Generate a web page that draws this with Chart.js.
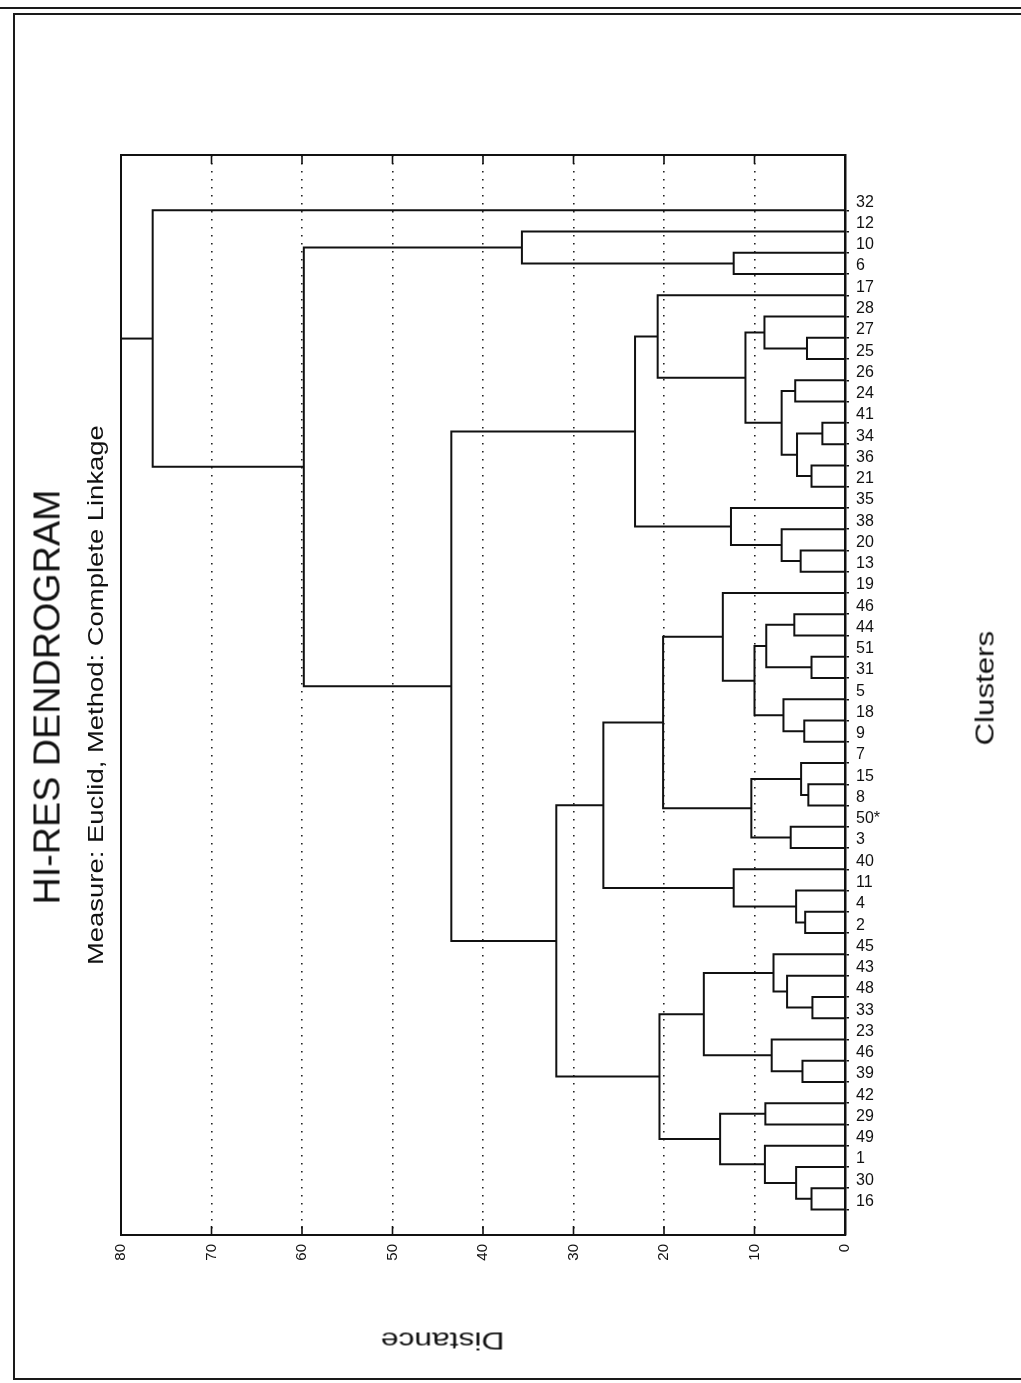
<!DOCTYPE html>
<html>
<head>
<meta charset="utf-8">
<script src="https://cdn.jsdelivr.net/npm/chart.js@4.4.1/dist/chart.umd.min.js"></script>
<style>
html, body { margin: 0; padding: 0; background: #fff; }
#wrap { position: relative; width: 1021px; height: 1383px; overflow: hidden; background: #fff; }
#chartBox { position: absolute; left: 0; top: 0; width: 1021px; height: 1383px; }
.lbl { position: absolute; left: 0; top: 0; white-space: nowrap; font-family: "Liberation Sans", Arial, sans-serif; color: #111; transform-origin: 0 0; line-height: 1; }
.edge { position: absolute; background: #1a1a1a; }
</style>
</head>
<body>
<div id="wrap">
  <div class="edge" style="left:0; top:7px; width:1021px; height:2px;"></div>
  <div class="edge" style="left:13px; top:13px; width:1008px; height:1.5px;"></div>
  <div class="edge" style="left:13px; top:13px; width:2px; height:1367px;"></div>
  <div class="edge" style="left:13px; top:1378px; width:1008px; height:2px;"></div>
  <div id="chartBox"><canvas id="c"></canvas></div>
  <div class="lbl" id="title" style="font-size:37px;" data-cx="47" data-cy="697" data-len="415" data-rot="-90">HI-RES DENDROGRAM</div>
  <div class="lbl" id="subtitle" style="font-size:22px;" data-cx="96" data-cy="695" data-len="540" data-rot="-90">Measure: Euclid, Method: Complete Linkage</div>
  <div class="lbl" id="clusters" style="font-size:25px;" data-cx="985" data-cy="688" data-len="115" data-rot="-90">Clusters</div>
  <div class="lbl" id="distance" style="font-size:23px;" data-cx="443" data-cy="1340" data-len="123" data-rot="180">Distance</div>
</div>
<script>
// ---- data ----
const leafLabels = ["32","12","10","6","17","28","27","25","26","24","41","34","36","21","35","38","20","13","19","46","44","51","31","5","18","9","7","15","8","50*","3","40","11","4","2","45","43","48","33","23","46","39","42","29","49","1","30","16"];
// merges: node ids 0..47 are leaves, 48+ are merges in this order
const mergeLeft   = [2, 1, 6, 5, 8, 10, 12, 53, 52, 51, 4, 16, 15, 14, 58, 19, 21, 63, 24, 23, 65, 18, 27, 26, 29, 71, 69, 33, 32, 31, 74, 37, 36, 35, 40, 39, 81, 42, 46, 45, 44, 85, 84, 78, 62, 49, 0];
const mergeRight  = [3, 48, 7, 50, 9, 11, 13, 54, 55, 56, 57, 17, 59, 60, 61, 20, 22, 64, 25, 66, 67, 68, 28, 70, 30, 72, 73, 34, 75, 76, 77, 38, 79, 80, 41, 82, 83, 43, 47, 86, 87, 88, 89, 90, 91, 92, 93];
const mergeHeight = [12.3, 35.7, 4.2, 8.9, 5.5, 2.5, 3.7, 5.3, 7.0, 11.0, 20.7, 4.9, 7.0, 12.6, 23.2, 5.6, 3.7, 8.7, 4.5, 6.8, 10.0, 13.5, 4.05, 4.85, 6.0, 10.35, 20.1, 4.4, 5.4, 12.3, 26.7, 3.6, 6.4, 7.9, 4.7, 8.1, 15.6, 8.8, 3.7, 5.4, 8.85, 13.8, 20.5, 31.9, 43.5, 59.8, 76.5];
const distanceTicks = [0, 10, 20, 30, 40, 50, 60, 70, 80];

// ---- build dendrogram segments from the data ----
const nodePos = leafLabels.map((_, i) => i);
const nodeHeight = leafLabels.map(() => 0);
mergeLeft.forEach((a, k) => {
  const b = mergeRight[k];
  nodePos.push((nodePos[a] + nodePos[b]) / 2);
  nodeHeight.push(mergeHeight[k]);
});
const lineStyle = { showLine: true, pointRadius: 0, borderColor: '#111', borderWidth: 2, tension: 0, fill: false };
const datasets = mergeLeft.map((a, k) => {
  const b = mergeRight[k], h = mergeHeight[k];
  return Object.assign({
    data: [
      { x: nodeHeight[a], y: nodePos[a] },
      { x: h, y: nodePos[a] },
      { x: h, y: nodePos[b] },
      { x: nodeHeight[b], y: nodePos[b] }
    ]
  }, lineStyle);
});
const root = nodePos.length - 1;
datasets.push(Object.assign({
  data: [{ x: nodeHeight[root], y: nodePos[root] }, { x: distanceTicks[distanceTicks.length - 1], y: nodePos[root] }]
}, lineStyle));

const FONT = '"Liberation Sans", Arial, sans-serif';

const framePlugin = {
  id: 'frame',
  afterDraw(chart) {
    const { ctx, chartArea: a, scales } = chart;
    ctx.save();
    ctx.strokeStyle = '#111';
    ctx.lineWidth = 2;
    ctx.strokeRect(a.left, a.top, a.right - a.left, a.bottom - a.top);
    ctx.lineWidth = 1.6;
    distanceTicks.forEach(v => {
      if (v === 0 || v === 80) return;
      const x = scales.x.getPixelForValue(v);
      ctx.beginPath();
      ctx.moveTo(x, a.bottom); ctx.lineTo(x, a.bottom - 9);
      ctx.moveTo(x, a.top); ctx.lineTo(x, a.top + 9);
      ctx.stroke();
    });
    ctx.restore();
  }
};

new Chart(document.getElementById('c'), {
  type: 'scatter',
  data: { datasets },
  options: {
    responsive: true,
    maintainAspectRatio: false,
    animation: false,
    events: [],
    layout: { padding: { left: 121, top: 155, right: 116, bottom: 108 } },
    plugins: { legend: { display: false }, tooltip: { enabled: false }, title: { display: false } },
    scales: {
      x: {
        type: 'linear', position: 'bottom', reverse: true, min: 0, max: 80,
        afterBuildTicks: s => { s.ticks = distanceTicks.map(v => ({ value: v })); },
        afterFit: s => { s.height = 40; },
        ticks: { minRotation: 90, maxRotation: 90, padding: 9, color: '#111', font: { family: FONT, size: 15 } },
        grid: {
          drawTicks: false, lineWidth: 1.6,
          color: c => (c.tick && (c.tick.value === 0 || c.tick.value === 80)) ? 'rgba(0,0,0,0)' : '#222'
        },
        border: { display: false, dash: [1.6, 6.4] }
      },
      y: {
        type: 'linear', position: 'right', reverse: true, min: -2.6, max: 48.2,
        afterBuildTicks: s => { s.ticks = leafLabels.map((_, i) => ({ value: i })); },
        afterFit: s => { s.width = 60; },
        ticks: { autoSkip: false, callback: v => leafLabels[v], labelOffset: -8, padding: 7, color: '#111', font: { family: FONT, size: 16 } },
        grid: { drawOnChartArea: false, drawTicks: true, tickLength: 4, color: '#111', lineWidth: 1.5 },
        border: { display: true, width: 2.5, color: '#111' }
      }
    }
  },
  plugins: [framePlugin]
});

// ---- place rotated texts ----
document.querySelectorAll('.lbl').forEach(el => {
  const w = el.offsetWidth, h = el.offsetHeight;
  const cx = +el.dataset.cx, cy = +el.dataset.cy, len = +el.dataset.len, rot = +el.dataset.rot;
  const k = len / w;
  el.style.transform = `translate(${cx}px, ${cy}px) rotate(${rot}deg) scale(${k}, 1) translate(${-w / 2}px, ${-h / 2}px)`;
});
</script>
</body>
</html>
